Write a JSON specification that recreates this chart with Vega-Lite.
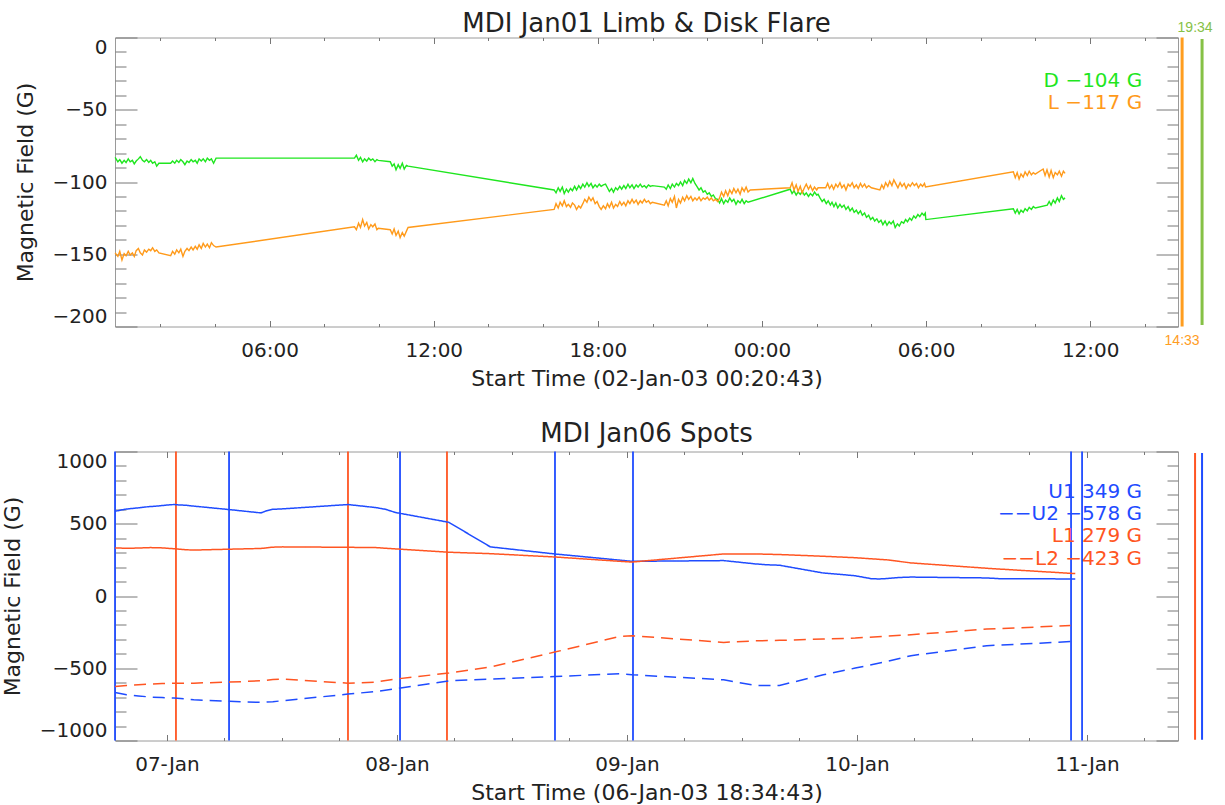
{
  "$schema": "https://vega.github.io/schema/vega-lite/v6.json",
  "description": "MDI magnetic field time series. Top: limb (L) and disk (D) flare sites from 02-Jan-03 00:20:43. Bottom: umbra (U1, U2) and light-bridge (L1, L2) spots from 06-Jan-03 18:34:43. hr = hours since 00:00 of the start day.",
  "background": "white",
  "padding": {"left": 0, "top": 9.5, "right": 5, "bottom": 0},
  "datasets": {
    "flare": [
      {"s":"D","hr":0.35,"g":-83},{"s":"D","hr":0.45,"g":-86},{"s":"D","hr":0.52,"g":-84.5},{"s":"D","hr":0.6,"g":-87},{"s":"D","hr":0.68,"g":-85},{"s":"D","hr":0.75,"g":-86.5},{"s":"D","hr":0.83,"g":-84},{"s":"D","hr":0.9,"g":-86},{"s":"D","hr":0.98,"g":-85},{"s":"D","hr":1.05,"g":-87.5},{"s":"D","hr":1.12,"g":-85.5},{"s":"D","hr":1.2,"g":-84},{"s":"D","hr":1.27,"g":-82.5},{"s":"D","hr":1.35,"g":-85},{"s":"D","hr":1.42,"g":-86},{"s":"D","hr":1.5,"g":-84.5},{"s":"D","hr":1.58,"g":-86.5},{"s":"D","hr":1.65,"g":-85},{"s":"D","hr":1.72,"g":-87},{"s":"D","hr":1.8,"g":-86},{"s":"D","hr":1.87,"g":-89},{"s":"D","hr":1.95,"g":-87},
      {"s":"D","hr":2.38,"g":-87},{"s":"D","hr":2.45,"g":-85.5},{"s":"D","hr":2.53,"g":-87},{"s":"D","hr":2.6,"g":-85},{"s":"D","hr":2.68,"g":-86.5},{"s":"D","hr":2.75,"g":-84.5},{"s":"D","hr":2.83,"g":-86},{"s":"D","hr":2.9,"g":-88},{"s":"D","hr":2.98,"g":-85.5},{"s":"D","hr":3.05,"g":-86.5},{"s":"D","hr":3.13,"g":-84.5},{"s":"D","hr":3.2,"g":-86},{"s":"D","hr":3.28,"g":-85},{"s":"D","hr":3.35,"g":-87},{"s":"D","hr":3.42,"g":-84},{"s":"D","hr":3.5,"g":-85.5},{"s":"D","hr":3.57,"g":-84},{"s":"D","hr":3.65,"g":-86},{"s":"D","hr":3.72,"g":-83.5},{"s":"D","hr":3.8,"g":-85},{"s":"D","hr":3.87,"g":-84},{"s":"D","hr":3.95,"g":-87},{"s":"D","hr":4.04,"g":-83.5},
      {"s":"D","hr":9.1,"g":-83.5},{"s":"D","hr":9.17,"g":-81.5},{"s":"D","hr":9.25,"g":-85},{"s":"D","hr":9.32,"g":-83},{"s":"D","hr":9.4,"g":-86},{"s":"D","hr":9.47,"g":-84},{"s":"D","hr":9.55,"g":-85.5},{"s":"D","hr":9.62,"g":-83.5},{"s":"D","hr":9.7,"g":-85},{"s":"D","hr":9.77,"g":-84},{"s":"D","hr":9.85,"g":-86},{"s":"D","hr":9.92,"g":-84.5},{"s":"D","hr":9.97,"g":-85},
      {"s":"D","hr":10.41,"g":-86},{"s":"D","hr":10.48,"g":-89},{"s":"D","hr":10.55,"g":-87.5},{"s":"D","hr":10.62,"g":-91.5},{"s":"D","hr":10.7,"g":-88},{"s":"D","hr":10.77,"g":-90.5},{"s":"D","hr":10.85,"g":-87},{"s":"D","hr":10.92,"g":-91},{"s":"D","hr":11.0,"g":-88.5},{"s":"D","hr":11.06,"g":-89},
      {"s":"D","hr":16.4,"g":-105.5},{"s":"D","hr":16.47,"g":-107.5},{"s":"D","hr":16.55,"g":-104},{"s":"D","hr":16.62,"g":-106.5},{"s":"D","hr":16.7,"g":-103.5},{"s":"D","hr":16.77,"g":-108},{"s":"D","hr":16.85,"g":-105},{"s":"D","hr":16.92,"g":-107},{"s":"D","hr":17.0,"g":-104.5},{"s":"D","hr":17.07,"g":-106},{"s":"D","hr":17.15,"g":-103},{"s":"D","hr":17.22,"g":-105.5},{"s":"D","hr":17.3,"g":-102.5},{"s":"D","hr":17.37,"g":-104.5},{"s":"D","hr":17.45,"g":-101.5},{"s":"D","hr":17.52,"g":-103.5},{"s":"D","hr":17.6,"g":-100.5},{"s":"D","hr":17.67,"g":-103},{"s":"D","hr":17.75,"g":-101},{"s":"D","hr":17.82,"g":-104},{"s":"D","hr":17.9,"g":-102},{"s":"D","hr":17.97,"g":-103.5},{"s":"D","hr":18.05,"g":-101.5},{"s":"D","hr":18.12,"g":-103},{"s":"D","hr":18.2,"g":-102},{"s":"D","hr":18.28,"g":-101.5},
      {"s":"D","hr":18.35,"g":-104},{"s":"D","hr":18.42,"g":-106.5},{"s":"D","hr":18.5,"g":-104.5},{"s":"D","hr":18.57,"g":-107},{"s":"D","hr":18.65,"g":-104},{"s":"D","hr":18.72,"g":-105.5},{"s":"D","hr":18.8,"g":-103},{"s":"D","hr":18.87,"g":-105},{"s":"D","hr":18.95,"g":-102.5},{"s":"D","hr":19.02,"g":-104.5},{"s":"D","hr":19.1,"g":-101.5},{"s":"D","hr":19.17,"g":-104},{"s":"D","hr":19.25,"g":-102},{"s":"D","hr":19.32,"g":-104.5},{"s":"D","hr":19.4,"g":-102},{"s":"D","hr":19.47,"g":-103.5},{"s":"D","hr":19.55,"g":-101.5},{"s":"D","hr":19.62,"g":-103.5},{"s":"D","hr":19.7,"g":-102.5},{"s":"D","hr":19.77,"g":-104},{"s":"D","hr":19.85,"g":-102},{"s":"D","hr":19.92,"g":-103},{"s":"D","hr":19.99,"g":-102.5},
      {"s":"D","hr":20.43,"g":-103.5},{"s":"D","hr":20.5,"g":-105},{"s":"D","hr":20.57,"g":-102},{"s":"D","hr":20.65,"g":-104.5},{"s":"D","hr":20.72,"g":-101.5},{"s":"D","hr":20.8,"g":-103.5},{"s":"D","hr":20.87,"g":-101},{"s":"D","hr":20.95,"g":-102.5},{"s":"D","hr":21.02,"g":-100},{"s":"D","hr":21.1,"g":-102.5},{"s":"D","hr":21.17,"g":-99},{"s":"D","hr":21.25,"g":-101},{"s":"D","hr":21.32,"g":-98},{"s":"D","hr":21.4,"g":-100.5},{"s":"D","hr":21.47,"g":-97.5},{"s":"D","hr":21.55,"g":-101},{"s":"D","hr":21.62,"g":-103},{"s":"D","hr":21.7,"g":-105.5},{"s":"D","hr":21.77,"g":-104},{"s":"D","hr":21.85,"g":-107},{"s":"D","hr":21.92,"g":-106},{"s":"D","hr":22.0,"g":-108.5},{"s":"D","hr":22.07,"g":-107.5},{"s":"D","hr":22.15,"g":-110},{"s":"D","hr":22.22,"g":-109},{"s":"D","hr":22.3,"g":-111.5},
      {"s":"D","hr":22.38,"g":-112},{"s":"D","hr":22.45,"g":-114.5},{"s":"D","hr":22.52,"g":-111.5},{"s":"D","hr":22.6,"g":-115},{"s":"D","hr":22.67,"g":-112.5},{"s":"D","hr":22.75,"g":-114},{"s":"D","hr":22.82,"g":-111},{"s":"D","hr":22.9,"g":-113.5},{"s":"D","hr":22.97,"g":-112},{"s":"D","hr":23.05,"g":-115.5},{"s":"D","hr":23.12,"g":-113},{"s":"D","hr":23.2,"g":-114.5},{"s":"D","hr":23.27,"g":-112},{"s":"D","hr":23.35,"g":-115},{"s":"D","hr":23.42,"g":-113},{"s":"D","hr":23.49,"g":-114},
      {"s":"D","hr":25.03,"g":-105},{"s":"D","hr":25.1,"g":-108},{"s":"D","hr":25.17,"g":-106},{"s":"D","hr":25.25,"g":-109},{"s":"D","hr":25.32,"g":-107},{"s":"D","hr":25.4,"g":-108.5},{"s":"D","hr":25.47,"g":-106.5},{"s":"D","hr":25.55,"g":-109},{"s":"D","hr":25.62,"g":-107.5},{"s":"D","hr":25.7,"g":-110},{"s":"D","hr":25.77,"g":-108},{"s":"D","hr":25.85,"g":-109.5},{"s":"D","hr":25.92,"g":-107},{"s":"D","hr":26.0,"g":-109},{"s":"D","hr":26.05,"g":-108.5},{"s":"D","hr":26.12,"g":-111},{"s":"D","hr":26.2,"g":-113.5},{"s":"D","hr":26.27,"g":-112},{"s":"D","hr":26.35,"g":-115},{"s":"D","hr":26.42,"g":-113},{"s":"D","hr":26.5,"g":-116},{"s":"D","hr":26.56,"g":-114},
      {"s":"D","hr":26.63,"g":-117},{"s":"D","hr":26.7,"g":-114.5},{"s":"D","hr":26.77,"g":-118},{"s":"D","hr":26.85,"g":-115.5},{"s":"D","hr":26.92,"g":-117.5},{"s":"D","hr":27.0,"g":-116},{"s":"D","hr":27.07,"g":-119},{"s":"D","hr":27.15,"g":-117},{"s":"D","hr":27.22,"g":-120},{"s":"D","hr":27.3,"g":-118},{"s":"D","hr":27.37,"g":-121},{"s":"D","hr":27.45,"g":-119.5},{"s":"D","hr":27.52,"g":-122},{"s":"D","hr":27.6,"g":-120},{"s":"D","hr":27.67,"g":-123},{"s":"D","hr":27.75,"g":-121.5},{"s":"D","hr":27.82,"g":-124.5},{"s":"D","hr":27.9,"g":-123},{"s":"D","hr":27.97,"g":-126},{"s":"D","hr":28.05,"g":-124.5},{"s":"D","hr":28.12,"g":-127},{"s":"D","hr":28.2,"g":-125.5},{"s":"D","hr":28.27,"g":-128},
      {"s":"D","hr":28.35,"g":-126.5},{"s":"D","hr":28.42,"g":-129.5},{"s":"D","hr":28.5,"g":-127},{"s":"D","hr":28.57,"g":-130},{"s":"D","hr":28.65,"g":-127.5},{"s":"D","hr":28.72,"g":-129},{"s":"D","hr":28.8,"g":-127},{"s":"D","hr":28.87,"g":-131.5},{"s":"D","hr":28.95,"g":-129},{"s":"D","hr":29.02,"g":-130.5},{"s":"D","hr":29.1,"g":-127.5},{"s":"D","hr":29.18,"g":-128.5},
      {"s":"D","hr":29.25,"g":-126},{"s":"D","hr":29.32,"g":-127.5},{"s":"D","hr":29.4,"g":-125},{"s":"D","hr":29.47,"g":-126.5},{"s":"D","hr":29.55,"g":-123.5},{"s":"D","hr":29.62,"g":-125},{"s":"D","hr":29.7,"g":-122.5},{"s":"D","hr":29.77,"g":-124},{"s":"D","hr":29.85,"g":-121.5},{"s":"D","hr":29.92,"g":-123},{"s":"D","hr":29.97,"g":-121.5},{"s":"D","hr":29.99,"g":-126},
      {"s":"D","hr":33.19,"g":-118.5},{"s":"D","hr":33.26,"g":-121.5},{"s":"D","hr":33.33,"g":-119},{"s":"D","hr":33.4,"g":-122},{"s":"D","hr":33.47,"g":-119.5},{"s":"D","hr":33.55,"g":-121},{"s":"D","hr":33.62,"g":-118.5},{"s":"D","hr":33.7,"g":-120},{"s":"D","hr":33.77,"g":-117.5},{"s":"D","hr":33.85,"g":-119},{"s":"D","hr":33.92,"g":-117},{"s":"D","hr":33.99,"g":-118},
      {"s":"D","hr":34.43,"g":-116},{"s":"D","hr":34.5,"g":-113.5},{"s":"D","hr":34.57,"g":-116},{"s":"D","hr":34.65,"g":-112.5},{"s":"D","hr":34.72,"g":-114.5},{"s":"D","hr":34.8,"g":-111},{"s":"D","hr":34.87,"g":-113.5},{"s":"D","hr":34.95,"g":-109.5},{"s":"D","hr":35.02,"g":-112},{"s":"D","hr":35.08,"g":-111},

      {"s":"L","hr":0.35,"g":-149},{"s":"L","hr":0.45,"g":-151.5},{"s":"L","hr":0.52,"g":-148},{"s":"L","hr":0.6,"g":-154},{"s":"L","hr":0.68,"g":-149.5},{"s":"L","hr":0.75,"g":-151},{"s":"L","hr":0.83,"g":-148},{"s":"L","hr":0.9,"g":-150.5},{"s":"L","hr":0.98,"g":-149},{"s":"L","hr":1.05,"g":-151.5},{"s":"L","hr":1.12,"g":-147.5},{"s":"L","hr":1.2,"g":-146},{"s":"L","hr":1.27,"g":-149},{"s":"L","hr":1.35,"g":-150.5},{"s":"L","hr":1.42,"g":-147},{"s":"L","hr":1.5,"g":-148.5},{"s":"L","hr":1.58,"g":-146.5},{"s":"L","hr":1.65,"g":-147.5},{"s":"L","hr":1.72,"g":-145.5},{"s":"L","hr":1.8,"g":-148},{"s":"L","hr":1.87,"g":-147},{"s":"L","hr":1.95,"g":-149},
      {"s":"L","hr":2.38,"g":-151},{"s":"L","hr":2.45,"g":-148},{"s":"L","hr":2.53,"g":-150},{"s":"L","hr":2.6,"g":-147},{"s":"L","hr":2.68,"g":-149},{"s":"L","hr":2.75,"g":-146.5},{"s":"L","hr":2.83,"g":-151.5},{"s":"L","hr":2.9,"g":-148},{"s":"L","hr":2.98,"g":-146},{"s":"L","hr":3.05,"g":-147.5},{"s":"L","hr":3.13,"g":-145},{"s":"L","hr":3.2,"g":-147},{"s":"L","hr":3.28,"g":-144.5},{"s":"L","hr":3.35,"g":-146.5},{"s":"L","hr":3.42,"g":-143.5},{"s":"L","hr":3.5,"g":-146},{"s":"L","hr":3.57,"g":-142.5},{"s":"L","hr":3.65,"g":-145},{"s":"L","hr":3.72,"g":-143},{"s":"L","hr":3.8,"g":-145.5},{"s":"L","hr":3.87,"g":-142},{"s":"L","hr":3.95,"g":-144},{"s":"L","hr":4.04,"g":-145},
      {"s":"L","hr":9.1,"g":-131},{"s":"L","hr":9.17,"g":-133},{"s":"L","hr":9.25,"g":-128.5},{"s":"L","hr":9.32,"g":-131.5},{"s":"L","hr":9.4,"g":-126},{"s":"L","hr":9.47,"g":-130.5},{"s":"L","hr":9.55,"g":-128},{"s":"L","hr":9.62,"g":-132.5},{"s":"L","hr":9.7,"g":-129.5},{"s":"L","hr":9.77,"g":-131},{"s":"L","hr":9.85,"g":-129},{"s":"L","hr":9.92,"g":-133},{"s":"L","hr":9.97,"g":-132},
      {"s":"L","hr":10.41,"g":-133},{"s":"L","hr":10.48,"g":-136},{"s":"L","hr":10.55,"g":-132.5},{"s":"L","hr":10.62,"g":-137},{"s":"L","hr":10.7,"g":-134},{"s":"L","hr":10.77,"g":-138.5},{"s":"L","hr":10.85,"g":-135},{"s":"L","hr":10.92,"g":-137.5},{"s":"L","hr":11.0,"g":-134},{"s":"L","hr":11.06,"g":-131.5},
      {"s":"L","hr":16.4,"g":-119},{"s":"L","hr":16.47,"g":-115},{"s":"L","hr":16.55,"g":-118},{"s":"L","hr":16.62,"g":-114},{"s":"L","hr":16.7,"g":-116.5},{"s":"L","hr":16.77,"g":-113},{"s":"L","hr":16.85,"g":-117},{"s":"L","hr":16.92,"g":-115.5},{"s":"L","hr":17.0,"g":-117.5},{"s":"L","hr":17.07,"g":-114.5},{"s":"L","hr":17.15,"g":-116},{"s":"L","hr":17.22,"g":-119},{"s":"L","hr":17.3,"g":-116.5},{"s":"L","hr":17.37,"g":-118},{"s":"L","hr":17.45,"g":-115},{"s":"L","hr":17.52,"g":-112},{"s":"L","hr":17.6,"g":-114},{"s":"L","hr":17.67,"g":-110.5},{"s":"L","hr":17.75,"g":-113},{"s":"L","hr":17.82,"g":-111},{"s":"L","hr":17.9,"g":-115},{"s":"L","hr":17.97,"g":-113.5},{"s":"L","hr":18.05,"g":-117},{"s":"L","hr":18.12,"g":-119},{"s":"L","hr":18.2,"g":-116.5},{"s":"L","hr":18.28,"g":-118.5},
      {"s":"L","hr":18.35,"g":-115},{"s":"L","hr":18.42,"g":-117.5},{"s":"L","hr":18.5,"g":-114},{"s":"L","hr":18.57,"g":-118},{"s":"L","hr":18.65,"g":-115.5},{"s":"L","hr":18.72,"g":-117},{"s":"L","hr":18.8,"g":-113.5},{"s":"L","hr":18.87,"g":-116},{"s":"L","hr":18.95,"g":-114},{"s":"L","hr":19.02,"g":-116.5},{"s":"L","hr":19.1,"g":-113},{"s":"L","hr":19.17,"g":-115},{"s":"L","hr":19.25,"g":-112},{"s":"L","hr":19.32,"g":-114.5},{"s":"L","hr":19.4,"g":-112.5},{"s":"L","hr":19.47,"g":-115.5},{"s":"L","hr":19.55,"g":-113},{"s":"L","hr":19.62,"g":-114.5},{"s":"L","hr":19.7,"g":-112},{"s":"L","hr":19.77,"g":-114},{"s":"L","hr":19.85,"g":-113},{"s":"L","hr":19.92,"g":-115},{"s":"L","hr":19.99,"g":-114},
      {"s":"L","hr":20.43,"g":-116},{"s":"L","hr":20.5,"g":-113},{"s":"L","hr":20.57,"g":-116.5},{"s":"L","hr":20.65,"g":-111.5},{"s":"L","hr":20.72,"g":-114},{"s":"L","hr":20.8,"g":-110},{"s":"L","hr":20.87,"g":-118},{"s":"L","hr":20.95,"g":-112},{"s":"L","hr":21.02,"g":-114.5},{"s":"L","hr":21.1,"g":-110.5},{"s":"L","hr":21.17,"g":-113},{"s":"L","hr":21.25,"g":-109.5},{"s":"L","hr":21.32,"g":-112},{"s":"L","hr":21.4,"g":-110},{"s":"L","hr":21.47,"g":-113},{"s":"L","hr":21.55,"g":-111},{"s":"L","hr":21.62,"g":-112.5},{"s":"L","hr":21.7,"g":-110.5},{"s":"L","hr":21.77,"g":-113},{"s":"L","hr":21.85,"g":-111},{"s":"L","hr":21.92,"g":-112},{"s":"L","hr":22.0,"g":-110.5},{"s":"L","hr":22.07,"g":-112.5},{"s":"L","hr":22.15,"g":-111},{"s":"L","hr":22.22,"g":-113},{"s":"L","hr":22.3,"g":-112},{"s":"L","hr":22.38,"g":-113.5},
      {"s":"L","hr":22.45,"g":-111},{"s":"L","hr":22.52,"g":-107},{"s":"L","hr":22.6,"g":-110},{"s":"L","hr":22.67,"g":-106},{"s":"L","hr":22.75,"g":-109.5},{"s":"L","hr":22.82,"g":-105.5},{"s":"L","hr":22.9,"g":-108},{"s":"L","hr":22.97,"g":-104.5},{"s":"L","hr":23.05,"g":-107.5},{"s":"L","hr":23.12,"g":-105},{"s":"L","hr":23.2,"g":-108.5},{"s":"L","hr":23.27,"g":-104},{"s":"L","hr":23.35,"g":-106.5},{"s":"L","hr":23.42,"g":-103.5},{"s":"L","hr":23.49,"g":-107},{"s":"L","hr":23.57,"g":-105.5},
      {"s":"L","hr":25.03,"g":-104},{"s":"L","hr":25.1,"g":-100.5},{"s":"L","hr":25.17,"g":-105.5},{"s":"L","hr":25.25,"g":-102},{"s":"L","hr":25.32,"g":-106.5},{"s":"L","hr":25.4,"g":-103},{"s":"L","hr":25.47,"g":-107.5},{"s":"L","hr":25.55,"g":-104},{"s":"L","hr":25.62,"g":-101.5},{"s":"L","hr":25.7,"g":-105},{"s":"L","hr":25.77,"g":-102.5},{"s":"L","hr":25.85,"g":-106},{"s":"L","hr":25.92,"g":-103.5},{"s":"L","hr":26.0,"g":-105.5},{"s":"L","hr":26.05,"g":-104},
      {"s":"L","hr":26.33,"g":-104},{"s":"L","hr":26.4,"g":-101},{"s":"L","hr":26.47,"g":-104.5},{"s":"L","hr":26.55,"g":-102},{"s":"L","hr":26.62,"g":-105},{"s":"L","hr":26.7,"g":-101.5},{"s":"L","hr":26.77,"g":-103.5},{"s":"L","hr":26.85,"g":-100.5},{"s":"L","hr":26.92,"g":-104},{"s":"L","hr":27.0,"g":-102},{"s":"L","hr":27.07,"g":-105.5},{"s":"L","hr":27.15,"g":-101.5},{"s":"L","hr":27.22,"g":-103},{"s":"L","hr":27.3,"g":-100.5},{"s":"L","hr":27.37,"g":-104},{"s":"L","hr":27.45,"g":-102},{"s":"L","hr":27.52,"g":-104.5},{"s":"L","hr":27.6,"g":-101},{"s":"L","hr":27.67,"g":-103.5},{"s":"L","hr":27.75,"g":-101.5},{"s":"L","hr":27.82,"g":-104},{"s":"L","hr":27.9,"g":-102.5},{"s":"L","hr":28.0,"g":-104},
      {"s":"L","hr":28.31,"g":-105.5},{"s":"L","hr":28.38,"g":-102},{"s":"L","hr":28.45,"g":-104.5},{"s":"L","hr":28.52,"g":-100.5},{"s":"L","hr":28.6,"g":-103},{"s":"L","hr":28.67,"g":-99.5},{"s":"L","hr":28.75,"g":-102.5},{"s":"L","hr":28.82,"g":-98.5},{"s":"L","hr":28.9,"g":-101.5},{"s":"L","hr":28.97,"g":-104},{"s":"L","hr":29.05,"g":-100.5},{"s":"L","hr":29.12,"g":-103},{"s":"L","hr":29.2,"g":-101},{"s":"L","hr":29.27,"g":-104.5},{"s":"L","hr":29.35,"g":-101.5},{"s":"L","hr":29.42,"g":-103},{"s":"L","hr":29.5,"g":-100.5},{"s":"L","hr":29.57,"g":-102.5},{"s":"L","hr":29.65,"g":-101},{"s":"L","hr":29.72,"g":-104},{"s":"L","hr":29.8,"g":-101.5},{"s":"L","hr":29.87,"g":-103},{"s":"L","hr":29.94,"g":-101},{"s":"L","hr":29.98,"g":-103.5},
      {"s":"L","hr":33.19,"g":-93},{"s":"L","hr":33.26,"g":-97},{"s":"L","hr":33.33,"g":-93.5},{"s":"L","hr":33.4,"g":-98},{"s":"L","hr":33.47,"g":-94.5},{"s":"L","hr":33.55,"g":-96.5},{"s":"L","hr":33.62,"g":-93},{"s":"L","hr":33.7,"g":-95.5},{"s":"L","hr":33.77,"g":-92.5},{"s":"L","hr":33.85,"g":-95},{"s":"L","hr":33.92,"g":-93.5},{"s":"L","hr":33.99,"g":-94.5},
      {"s":"L","hr":34.28,"g":-91},{"s":"L","hr":34.35,"g":-95.5},{"s":"L","hr":34.42,"g":-91.5},{"s":"L","hr":34.5,"g":-96.5},{"s":"L","hr":34.57,"g":-92},{"s":"L","hr":34.65,"g":-97},{"s":"L","hr":34.72,"g":-93.5},{"s":"L","hr":34.8,"g":-95},{"s":"L","hr":34.87,"g":-92.5},{"s":"L","hr":34.95,"g":-96},{"s":"L","hr":35.02,"g":-92.5},{"s":"L","hr":35.08,"g":-94}
    ],
    "flareMarks": [
      {"s":"L","hr":39.36,"lab":"14:33"},
      {"s":"D","hr":40.09,"lab":"19:34"}
    ],
    "flareLegend": [
      {"s":"D","lab":"D −104 G"},
      {"s":"L","lab":"L −117 G"}
    ],
    "spots": [
      {"s":"U1","hr":18.59,"g":586},{"s":"U1","hr":19.2,"g":595},{"s":"U1","hr":19.78,"g":602},{"s":"U1","hr":20.4,"g":606},{"s":"U1","hr":21.02,"g":610},{"s":"U1","hr":21.6,"g":615},{"s":"U1","hr":22.26,"g":619},{"s":"U1","hr":22.9,"g":622},{"s":"U1","hr":23.5,"g":626},{"s":"U1","hr":24.1,"g":630},{"s":"U1","hr":24.73,"g":633},{"s":"U1","hr":25.3,"g":630},{"s":"U1","hr":25.97,"g":628},{"s":"U1","hr":26.8,"g":622},{"s":"U1","hr":30.51,"g":598},{"s":"U1","hr":33.81,"g":575},{"s":"U1","hr":34.4,"g":590},{"s":"U1","hr":35.05,"g":600},{"s":"U1","hr":36.08,"g":603},{"s":"U1","hr":42.89,"g":633},{"s":"U1","hr":45.78,"g":612},{"s":"U1","hr":46.3,"g":606},{"s":"U1","hr":46.81,"g":600},{"s":"U1","hr":47.84,"g":578},{"s":"U1","hr":53.41,"g":510},{"s":"U1","hr":57.74,"g":340},{"s":"U1","hr":64.47,"g":291},{"s":"U1","hr":71.28,"g":248},{"s":"U1","hr":72.52,"g":240},{"s":"U1","hr":82.09,"g":245},{"s":"U1","hr":85.42,"g":222},{"s":"U1","hr":86.6,"g":216},{"s":"U1","hr":87.91,"g":213},{"s":"U1","hr":92.49,"g":159},{"s":"U1","hr":94.2,"g":150},{"s":"U1","hr":95.82,"g":140},{"s":"U1","hr":97.48,"g":120},{"s":"U1","hr":98.3,"g":118},{"s":"U1","hr":99.15,"g":121},{"s":"U1","hr":100.4,"g":128},{"s":"U1","hr":101.64,"g":131},{"s":"U1","hr":109.55,"g":125},{"s":"U1","hr":110.8,"g":120},{"s":"U1","hr":118.78,"g":118},
      {"s":"L1","hr":18.59,"g":333},{"s":"L1","hr":19.78,"g":330},{"s":"L1","hr":21.02,"g":332},{"s":"L1","hr":22.26,"g":335},{"s":"L1","hr":23.5,"g":333},{"s":"L1","hr":24.73,"g":327},{"s":"L1","hr":25.97,"g":320},{"s":"L1","hr":26.8,"g":318},{"s":"L1","hr":33.81,"g":329},{"s":"L1","hr":35.05,"g":338},{"s":"L1","hr":36.08,"g":340},{"s":"L1","hr":42.89,"g":337},{"s":"L1","hr":45.78,"g":335},{"s":"L1","hr":47.84,"g":326},{"s":"L1","hr":53.41,"g":303},{"s":"L1","hr":57.74,"g":293},{"s":"L1","hr":64.47,"g":270},{"s":"L1","hr":71.28,"g":240},{"s":"L1","hr":72.52,"g":235},{"s":"L1","hr":82.09,"g":291},{"s":"L1","hr":85.42,"g":291},{"s":"L1","hr":87.91,"g":287},{"s":"L1","hr":92.49,"g":275},{"s":"L1","hr":95.82,"g":265},{"s":"L1","hr":99.15,"g":250},{"s":"L1","hr":101.64,"g":229},{"s":"L1","hr":109.96,"g":190},{"s":"L1","hr":118.78,"g":155},
      {"s":"L2","hr":18.59,"g":-626},{"s":"L2","hr":19.78,"g":-619},{"s":"L2","hr":21.02,"g":-614},{"s":"L2","hr":22.26,"g":-610},{"s":"L2","hr":23.5,"g":-606},{"s":"L2","hr":24.73,"g":-603},{"s":"L2","hr":26.8,"g":-603},{"s":"L2","hr":30.51,"g":-596},{"s":"L2","hr":33.81,"g":-587},{"s":"L2","hr":35.05,"g":-578},{"s":"L2","hr":36.08,"g":-575},{"s":"L2","hr":42.89,"g":-603},{"s":"L2","hr":45.78,"g":-596},{"s":"L2","hr":47.84,"g":-575},{"s":"L2","hr":53.41,"g":-533},{"s":"L2","hr":57.74,"g":-492},{"s":"L2","hr":64.47,"g":-388},{"s":"L2","hr":71.28,"g":-279},{"s":"L2","hr":72.52,"g":-275},{"s":"L2","hr":82.09,"g":-321},{"s":"L2","hr":85.42,"g":-310},{"s":"L2","hr":87.91,"g":-307},{"s":"L2","hr":92.49,"g":-298},{"s":"L2","hr":95.82,"g":-291},{"s":"L2","hr":101.64,"g":-268},{"s":"L2","hr":109.55,"g":-229},{"s":"L2","hr":118.28,"g":-205},
      {"s":"U2","hr":18.59,"g":-668},{"s":"U2","hr":19.78,"g":-684},{"s":"U2","hr":21.02,"g":-692},{"s":"U2","hr":22.26,"g":-699},{"s":"U2","hr":23.5,"g":-703},{"s":"U2","hr":24.73,"g":-706},{"s":"U2","hr":25.97,"g":-712},{"s":"U2","hr":26.8,"g":-718},{"s":"U2","hr":30.51,"g":-729},{"s":"U2","hr":33.81,"g":-736},{"s":"U2","hr":35.05,"g":-731},{"s":"U2","hr":36.08,"g":-725},{"s":"U2","hr":42.89,"g":-679},{"s":"U2","hr":45.78,"g":-661},{"s":"U2","hr":47.84,"g":-642},{"s":"U2","hr":53.41,"g":-587},{"s":"U2","hr":57.74,"g":-575},{"s":"U2","hr":64.47,"g":-557},{"s":"U2","hr":71.28,"g":-538},{"s":"U2","hr":72.52,"g":-545},{"s":"U2","hr":82.09,"g":-580},{"s":"U2","hr":85.42,"g":-619},{"s":"U2","hr":87.91,"g":-619},{"s":"U2","hr":92.49,"g":-545},{"s":"U2","hr":95.82,"g":-499},{"s":"U2","hr":99.15,"g":-453},{"s":"U2","hr":101.64,"g":-413},{"s":"U2","hr":109.55,"g":-344},{"s":"U2","hr":118.78,"g":-314}
    ],
    "spotMarks": [
      {"s":"U1","hr":18.58},{"s":"L1","hr":24.94},{"s":"U1","hr":30.48},{"s":"L1","hr":42.89},{"s":"U1","hr":48.32},{"s":"L1","hr":53.22},{"s":"U1","hr":64.49},{"s":"U1","hr":72.63},{"s":"U1","hr":118.34},{"s":"U1","hr":119.49}
    ],
    "spotEdge": [
      {"s":"L1","hr":131.28},{"s":"U1","hr":132.01}
    ],
    "spotLegend": [
      {"s":"U1","lab":"U1 349 G"},
      {"s":"U2","lab":"−−U2 −578 G"},
      {"s":"L1","lab":"L1 279 G"},
      {"s":"L2","lab":"−−L2 −423 G"}
    ]
  },
  "vconcat": [
    {
      "width": 1063,
      "height": 289,
      "title": {"text": "MDI Jan01 Limb & Disk Flare", "offset": -16},
      "layer": [
        {
          "data": {"name": "flare"},
          "mark": {"type": "line", "strokeWidth": 1.4},
          "encoding": {
            "x": {"field": "hr", "type": "quantitative", "scale": {"domain": [0.3453, 39.21], "nice": false, "zero": false},
                  "axis": {"orient": "bottom", "values": [6, 12, 18, 24, 30, 36], "ticks": false, "labelPadding": 14,
                           "labelExpr": "(datum.value % 24 < 10 ? '0' : '') + (datum.value % 24) + ':00'",
                           "title": "Start Time (02-Jan-03 00:20:43)", "titlePadding": 8}},
            "y": {"field": "g", "type": "quantitative", "scale": {"domain": [-200, 0], "nice": false, "zero": false},
                  "axis": {"orient": "left", "values": [0, -50, -100, -150, -200], "ticks": false, "format": "d", "labelFlush": true, "labelPadding": 8,
                           "title": "Magnetic Field (G)", "titlePadding": 15}},
            "color": {"field": "s", "type": "nominal", "scale": {"domain": ["D", "L"], "range": ["#1fe61f", "#ff9a1a"]}, "legend": null}
          }
        },
        {
          "data": {"name": "flareMarks"},
          "transform": [{"filter": "datum.s === 'L'"}],
          "mark": {"type": "rule", "color": "#ff9d1f", "strokeWidth": 3},
          "encoding": {
            "x": {"field": "hr", "type": "quantitative", "scale": {"domain": [0.3453, 39.21], "nice": false, "zero": false},
                  "axis": {"orient": "bottom", "values": [6, 12, 18, 24, 30, 36], "labels": false, "tickSize": -6, "title": null}},
            "y": {"datum": -200, "type": "quantitative", "scale": {"domain": [-200, 0], "nice": false, "zero": false},
                  "axis": {"orient": "left", "values": [0, -50, -100, -150, -200], "labels": false, "tickSize": -22, "title": null}},
            "y2": {"datum": 0}
          }
        },
        {
          "data": {"name": "flareMarks"},
          "transform": [{"filter": "datum.s === 'D'"}],
          "mark": {"type": "rule", "color": "#86c146", "strokeWidth": 3},
          "encoding": {
            "x": {"field": "hr", "type": "quantitative", "scale": {"domain": [0.3453, 39.21], "nice": false, "zero": false},
                  "axis": {"orient": "bottom", "values": [2, 4, 8, 10, 14, 16, 20, 22, 26, 28, 32, 34, 38], "labels": false, "tickSize": -3, "title": null}},
            "y": {"datum": -199, "type": "quantitative", "scale": {"domain": [-200, 0], "nice": false, "zero": false},
                  "axis": {"orient": "left", "values": [-190, -180, -170, -160, -140, -130, -120, -110, -90, -80, -70, -60, -40, -30, -20, -10], "labels": false, "tickSize": -11, "title": null}},
            "y2": {"datum": -1}
          }
        },
        {
          "data": {"name": "flareMarks"},
          "transform": [{"filter": "datum.s === 'L'"}],
          "mark": {"type": "text", "font": "Liberation Sans", "fontSize": 14, "color": "#ff9d1f", "baseline": "top", "dy": 7},
          "encoding": {
            "text": {"field": "lab"},
            "x": {"field": "hr", "type": "quantitative", "scale": {"domain": [0.3453, 39.21], "nice": false, "zero": false},
                  "axis": {"orient": "top", "values": [6, 12, 18, 24, 30, 36], "labels": false, "tickSize": -6, "title": null}},
            "y": {"datum": -200, "type": "quantitative", "scale": {"domain": [-200, 0], "nice": false, "zero": false},
                  "axis": {"orient": "right", "values": [0, -50, -100, -150, -200], "labels": false, "tickSize": -22, "title": null}}
          }
        },
        {
          "data": {"name": "flareMarks"},
          "transform": [{"filter": "datum.s === 'D'"}],
          "mark": {"type": "text", "font": "Liberation Sans", "fontSize": 14, "color": "#86c146", "baseline": "bottom", "dy": -3, "dx": -7},
          "encoding": {
            "text": {"field": "lab"},
            "x": {"field": "hr", "type": "quantitative", "scale": {"domain": [0.3453, 39.21], "nice": false, "zero": false},
                  "axis": {"orient": "top", "values": [2, 4, 8, 10, 14, 16, 20, 22, 26, 28, 32, 34, 38], "labels": false, "tickSize": -3, "title": null}},
            "y": {"datum": 0, "type": "quantitative", "scale": {"domain": [-200, 0], "nice": false, "zero": false},
                  "axis": {"orient": "right", "values": [-190, -180, -170, -160, -140, -130, -120, -110, -90, -80, -70, -60, -40, -30, -20, -10], "labels": false, "tickSize": -11, "title": null}}
          }
        },
        {
          "data": {"name": "flareLegend"},
          "transform": [{"filter": "datum.s === 'D'"}],
          "mark": {"type": "text", "align": "right", "baseline": "middle", "fontSize": 20, "color": "#1fe61f"},
          "encoding": {
            "text": {"field": "lab"},
            "x": {"datum": 37.9, "type": "quantitative", "scale": {"domain": [0.3453, 39.21], "nice": false, "zero": false}, "axis": null},
            "y": {"datum": -30.2, "type": "quantitative", "scale": {"domain": [-200, 0], "nice": false, "zero": false}, "axis": null}
          }
        },
        {
          "data": {"name": "flareLegend"},
          "transform": [{"filter": "datum.s === 'L'"}],
          "mark": {"type": "text", "align": "right", "baseline": "middle", "fontSize": 20, "color": "#ff9a1a"},
          "encoding": {
            "text": {"field": "lab"},
            "x": {"datum": 37.9, "type": "quantitative", "scale": {"domain": [0.3453, 39.21], "nice": false, "zero": false}, "axis": null},
            "y": {"datum": -45.4, "type": "quantitative", "scale": {"domain": [-200, 0], "nice": false, "zero": false}, "axis": null}
          }
        }
      ],
      "resolve": {"axis": {"x": "independent", "y": "independent"}}
    },
    {
      "width": 1063,
      "height": 289,
      "title": {"text": "MDI Jan06 Spots", "offset": 4},
      "layer": [
        {
          "data": {"name": "spotMarks"},
          "mark": {"type": "rule", "strokeWidth": 1.8},
          "encoding": {
            "x": {"field": "hr", "type": "quantitative", "scale": {"domain": [18.579, 129.5], "nice": false, "zero": false},
                  "axis": {"orient": "bottom", "values": [24, 48, 72, 96, 120], "labels": false, "tickSize": -6, "title": null}},
            "y": {"datum": -1000, "type": "quantitative", "scale": {"domain": [-1000, 1000], "nice": false, "zero": false},
                  "axis": {"orient": "left", "values": [-1000, -500, 0, 500, 1000], "labels": false, "tickSize": -22, "title": null}},
            "y2": {"datum": 1000},
            "color": {"field": "s", "type": "nominal", "scale": {"domain": ["U1", "U2", "L1", "L2"], "range": ["#1f4cff", "#1f4cff", "#ff5522", "#ff5522"]}, "legend": null}
          }
        },
        {
          "data": {"name": "spots"},
          "mark": {"type": "line", "strokeWidth": 1.5},
          "encoding": {
            "x": {"field": "hr", "type": "quantitative", "scale": {"domain": [18.579, 129.5], "nice": false, "zero": false},
                  "axis": {"orient": "bottom", "values": [24, 48, 72, 96, 120], "ticks": false, "labelPadding": 14,
                           "labelExpr": "(6 + datum.value / 24 < 10 ? '0' : '') + (6 + datum.value / 24) + '-Jan'",
                           "title": "Start Time (06-Jan-03 18:34:43)", "titlePadding": 8}},
            "y": {"field": "g", "type": "quantitative", "scale": {"domain": [-1000, 1000], "nice": false, "zero": false},
                  "axis": {"orient": "left", "values": [-1000, -500, 0, 500, 1000], "ticks": false, "format": "d", "labelFlush": true, "labelPadding": 8,
                           "title": "Magnetic Field (G)", "titlePadding": 15}},
            "color": {"field": "s", "type": "nominal", "scale": {"domain": ["U1", "U2", "L1", "L2"], "range": ["#1f4cff", "#1f4cff", "#ff5522", "#ff5522"]}, "legend": null},
            "strokeDash": {"field": "s", "type": "nominal", "scale": {"domain": ["U1", "U2", "L1", "L2"], "range": [[1, 0], [12, 7], [1, 0], [12, 7]]}, "legend": null}
          }
        },
        {
          "data": {"name": "spotEdge"},
          "mark": {"type": "rule", "strokeWidth": 2},
          "encoding": {
            "x": {"field": "hr", "type": "quantitative", "scale": {"domain": [18.579, 129.5], "nice": false, "zero": false},
                  "axis": {"orient": "bottom", "values": [30, 36, 42, 54, 60, 66, 78, 84, 90, 102, 108, 114, 126], "labels": false, "tickSize": -3, "title": null}},
            "y": {"datum": -995, "type": "quantitative", "scale": {"domain": [-1000, 1000], "nice": false, "zero": false},
                  "axis": {"orient": "left", "values": [-900, -800, -700, -600, -400, -300, -200, -100, 100, 200, 300, 400, 600, 700, 800, 900], "labels": false, "tickSize": -11, "title": null}},
            "y2": {"datum": 990},
            "color": {"field": "s", "type": "nominal", "scale": {"domain": ["U1", "U2", "L1", "L2"], "range": ["#1f4cff", "#1f4cff", "#ff5522", "#ff5522"]}, "legend": null}
          }
        },
        {
          "data": {"name": "spotLegend"},
          "transform": [{"filter": "datum.s === 'U1'"}],
          "mark": {"type": "text", "align": "right", "baseline": "middle", "fontSize": 20, "color": "#1f4cff"},
          "encoding": {
            "text": {"field": "lab"},
            "x": {"datum": 125.75, "type": "quantitative", "scale": {"domain": [18.579, 129.5], "nice": false, "zero": false},
                  "axis": {"orient": "top", "values": [24, 48, 72, 96, 120], "labels": false, "tickSize": -6, "title": null}},
            "y": {"datum": 723, "type": "quantitative", "scale": {"domain": [-1000, 1000], "nice": false, "zero": false},
                  "axis": {"orient": "right", "values": [-1000, -500, 0, 500, 1000], "labels": false, "tickSize": -22, "title": null}}
          }
        },
        {
          "data": {"name": "spotLegend"},
          "transform": [{"filter": "datum.s === 'U2'"}],
          "mark": {"type": "text", "align": "right", "baseline": "middle", "fontSize": 20, "color": "#1f4cff"},
          "encoding": {
            "text": {"field": "lab"},
            "x": {"datum": 125.75, "type": "quantitative", "scale": {"domain": [18.579, 129.5], "nice": false, "zero": false},
                  "axis": {"orient": "top", "values": [30, 36, 42, 54, 60, 66, 78, 84, 90, 102, 108, 114, 126], "labels": false, "tickSize": -3, "title": null}},
            "y": {"datum": 565, "type": "quantitative", "scale": {"domain": [-1000, 1000], "nice": false, "zero": false},
                  "axis": {"orient": "right", "values": [-900, -800, -700, -600, -400, -300, -200, -100, 100, 200, 300, 400, 600, 700, 800, 900], "labels": false, "tickSize": -11, "title": null}}
          }
        },
        {
          "data": {"name": "spotLegend"},
          "transform": [{"filter": "datum.s === 'L1'"}],
          "mark": {"type": "text", "align": "right", "baseline": "middle", "fontSize": 20, "color": "#ff5522"},
          "encoding": {
            "text": {"field": "lab"},
            "x": {"datum": 125.75, "type": "quantitative", "scale": {"domain": [18.579, 129.5], "nice": false, "zero": false}, "axis": null},
            "y": {"datum": 413, "type": "quantitative", "scale": {"domain": [-1000, 1000], "nice": false, "zero": false}, "axis": null}
          }
        },
        {
          "data": {"name": "spotLegend"},
          "transform": [{"filter": "datum.s === 'L2'"}],
          "mark": {"type": "text", "align": "right", "baseline": "middle", "fontSize": 20, "color": "#ff5522"},
          "encoding": {
            "text": {"field": "lab"},
            "x": {"datum": 125.75, "type": "quantitative", "scale": {"domain": [18.579, 129.5], "nice": false, "zero": false}, "axis": null},
            "y": {"datum": 254, "type": "quantitative", "scale": {"domain": [-1000, 1000], "nice": false, "zero": false}, "axis": null}
          }
        }
      ],
      "resolve": {"axis": {"x": "independent", "y": "independent"}}
    }
  ],
  "resolve": {"scale": {"color": "independent", "strokeDash": "independent"}},
  "config": {
    "font": "DejaVu Sans",
    "view": {"stroke": "#9a9a9a", "strokeWidth": 1},
    "concat": {"spacing": 29},
    "axis": {
      "domain": false, "grid": false,
      "labelFont": "DejaVu Sans", "labelFontSize": 20, "labelColor": "#222222",
      "titleFont": "DejaVu Sans", "titleFontSize": 22, "titleFontWeight": "normal", "titleColor": "#222222",
      "tickColor": "#777777", "tickWidth": 1
    },
    "title": {"font": "DejaVu Sans", "fontSize": 26, "fontWeight": "normal", "color": "#222222", "anchor": "middle", "frame": "group"},
    "text": {"font": "DejaVu Sans"}
  }
}
